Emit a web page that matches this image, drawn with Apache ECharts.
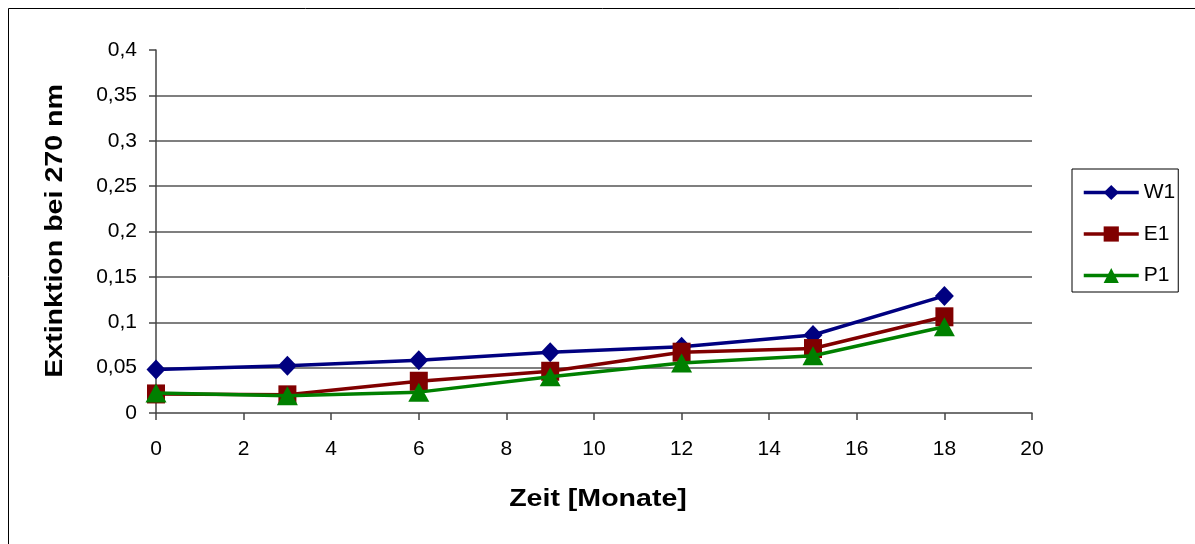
<!DOCTYPE html>
<html>
<head>
<meta charset="utf-8">
<script src="https://cdn.jsdelivr.net/npm/echarts@6/dist/echarts.min.js"></script>
<style>
  html, body { margin: 0; padding: 0; background: #fff; }
  #chart { width: 1195px; height: 544px; }
</style>
</head>
<body>
<div id="chart"></div>
<script>
// Storage time in months
const months = [0, 3, 6, 9, 12, 15, 18];

// Absorbance at 270 nm per sample
const w1 = [0.048, 0.052, 0.058, 0.067, 0.073, 0.086, 0.129];
const e1 = [0.021, 0.020, 0.035, 0.046, 0.067, 0.071, 0.106];
const p1 = [0.022, 0.019, 0.023, 0.040, 0.055, 0.063, 0.095];

const seriesNames = ['W1', 'E1', 'P1'];
const seriesColors = ['#000080', '#800000', '#008000'];

const xTitle = 'Zeit [Monate]';
const yTitle = 'Extinktion bei 270 nm';

const font = 'Arial, "Liberation Sans", sans-serif';
const pair = (ys) => months.map((m, i) => [m, ys[i]]);
const comma = (v) => String(+v.toFixed(2)).replace('.', ',');

const chart = echarts.init(document.getElementById('chart'));

const axisStroke = { color: '#444', width: 1.5 };

chart.setOption({
  animation: false,
  backgroundColor: '#fff',
  graphic: [
    {
      type: 'rect',
      shape: { x: 8.5, y: 8.5, width: 1200, height: 560 },
      style: { fill: 'none', stroke: '#000', lineWidth: 1 },
      silent: true
    },
    {
      // x-axis title, slightly widened lettering
      type: 'text',
      x: 598, y: 499, scaleX: 1.19,
      style: { text: xTitle, font: 'bold 24px ' + font, fill: '#000', align: 'center', verticalAlign: 'middle' },
      silent: true
    },
    {
      // y-axis title, rotated
      type: 'text',
      x: 55, y: 231, rotation: Math.PI / 2, scaleX: 1.19,
      style: { text: yTitle, font: 'bold 24px ' + font, fill: '#000', align: 'center', verticalAlign: 'middle' },
      silent: true
    }
  ],
  grid: { left: 156, right: 163, top: 50, bottom: 131 },
  legend: {
    orient: 'vertical',
    left: 1072,
    top: 169,
    padding: [13, 3, 6, 10],
    borderColor: '#000',
    borderWidth: 1,
    itemWidth: 55,
    itemHeight: 19,
    itemGap: 20.5,
    lineStyle: { width: 3.5 },
    textStyle: { fontFamily: font, fontSize: 21, color: '#000' },
    data: seriesNames
  },
  xAxis: {
    type: 'value',
    min: 0, max: 20, interval: 2,
    axisLine: { show: true, lineStyle: axisStroke },
    axisTick: { show: true, inside: false, length: 7, lineStyle: axisStroke },
    axisLabel: { fontFamily: font, fontSize: 21, color: '#000', margin: 26 },
    splitLine: { show: false }
  },
  yAxis: {
    type: 'value',
    min: 0, max: 0.4, interval: 0.05,
    axisLine: { show: true, lineStyle: axisStroke },
    axisTick: { show: true, inside: false, length: 7, lineStyle: axisStroke },
    axisLabel: { fontFamily: font, fontSize: 21, color: '#000', margin: 19, formatter: comma },
    splitLine: { show: true, showMinLine: false, showMaxLine: false, lineStyle: { color: '#555', width: 1.5 } }
  },
  series: [
    {
      name: seriesNames[0], type: 'line', data: pair(w1),
      symbol: 'diamond', symbolSize: [19, 20],
      lineStyle: { color: seriesColors[0], width: 3.5 },
      itemStyle: { color: seriesColors[0] }, z: 2
    },
    {
      name: seriesNames[1], type: 'line', data: pair(e1),
      symbol: 'rect', symbolSize: [18, 19],
      lineStyle: { color: seriesColors[1], width: 3.5 },
      itemStyle: { color: seriesColors[1] }, z: 3
    },
    {
      name: seriesNames[2], type: 'line', data: pair(p1),
      symbol: 'triangle', symbolSize: [21, 19],
      lineStyle: { color: seriesColors[2], width: 3.5 },
      itemStyle: { color: seriesColors[2] }, z: 4
    }
  ]
});
</script>
</body>
</html>
